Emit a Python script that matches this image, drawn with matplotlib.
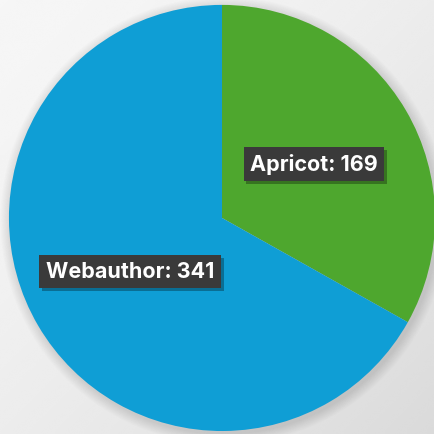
import numpy as np
import matplotlib
matplotlib.use("Agg")
import matplotlib.pyplot as plt
import matplotlib.patheffects as pe
from matplotlib.patches import Circle

# data
labels = ["Apricot", "Webauthor"]
values = [169, 341]
colors = ["#4ea72e", "#0f9ed5"]

fig = plt.figure(figsize=(4.34, 4.34), dpi=100)

# background gradient
bg = fig.add_axes([0, 0, 1, 1])
yy, xx = np.mgrid[0:1:200j, 0:1:200j]
shade = 0.965 - 0.11 * np.clip((xx + yy) / 2.0, 0, 1) ** 1.5
bg.imshow(shade, cmap="gray", vmin=0, vmax=1, extent=[0, 1, 0, 1],
          origin="upper", aspect="auto", interpolation="bicubic")
bg.axis("off")

ax = fig.add_axes([0, 0, 1, 1])
ax.set_facecolor("none")

# soft shadow around the pie
for i in range(10):
    r = 1.0 + 0.005 * (10 - i)
    ax.add_patch(Circle((0.01, -0.012), r, color="black", alpha=0.01, lw=0))

wedges, texts = ax.pie(values, colors=colors, startangle=90, counterclock=False,
                       radius=1.0, labels=None, wedgeprops=dict(linewidth=0))

ax.set_aspect("equal")
ax.set_xlim(-1.042, 0.995)
ax.set_ylim(-1.014, 1.023)
ax.axis("off")

# labels
for w, lab, v in zip(wedges, labels, values):
    ang = np.deg2rad((w.theta1 + w.theta2) / 2)
    x, y = 0.5 * np.cos(ang), 0.5 * np.sin(ang)
    t = ax.text(x, y, f"{lab}: {v}", ha="center", va="center",
                fontsize=15.5, fontweight="bold", family="Inter", color="white",
                bbox=dict(boxstyle="square,pad=0.3", fc="#3a3a3a", ec="none"))
    t.get_bbox_patch().set_path_effects(
        [pe.withSimplePatchShadow(offset=(2, -2), shadow_rgbFace="black", alpha=0.3)])

fig.savefig("out.png", dpi=100)
